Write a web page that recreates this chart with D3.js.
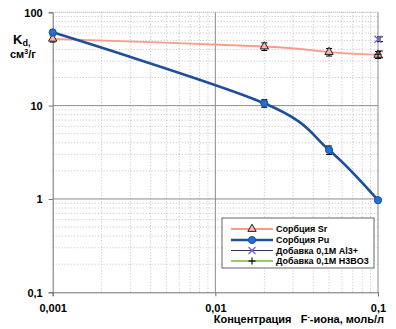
<!DOCTYPE html>
<html><head><meta charset="utf-8">
<script src="https://cdn.jsdelivr.net/npm/d3@7"></script>
<style>
body{margin:0;background:#fff;}
svg{display:block;font-family:"Liberation Sans",Arial,sans-serif;}
</style></head>
<body>
<svg id="c" width="396" height="329"></svg>
<script>
const conc = [0.001, 0.02, 0.05, 0.1];
const srValues = [52, 43, 37.5, 35];
const srErr = [4, 4, 3.5, 3];
const puValues = [61, 10.6, 3.35, 0.97];
const puErr = [0, 1.0, 0.35, 0];
const alConc = [0.1];
const alValues = [51.5];
const boConc = [0.1];
const boValues = [35.5];
const xTicks = [0.001, 0.01, 0.1];
const xTickLabels = ["0,001", "0,01", "0,1"];
const yTicks = [0.1, 1, 10, 100];
const yTickLabels = ["0,1", "1", "10", "100"];
const legendLabels = ["Сорбция Sr", "Сорбция Pu", "Добавка 0,1М Al3+", "Добавка 0,1М H3BO3"];

const svg = d3.select("#c");
const x = d3.scaleLog().domain([0.001, 0.1]).range([52.7, 378]);
const y = d3.scaleLog().domain([0.1, 100]).range([292.3, 12.3]);
const L = x.range()[0], R = x.range()[1], T = y.range()[1], B = y.range()[0];

// minor grid
const g = svg.append("g");
const minorX = [], minorY = [];
for (let d = 0.001; d < 0.1; d *= 10) for (let k = 2; k <= 9; k++) minorX.push(d * k);
for (let d = 0.1; d < 100; d *= 10) for (let k = 2; k <= 9; k++) minorY.push(d * k);
g.selectAll(".mx").data(minorX).join("line")
  .attr("x1", d => x(d)).attr("x2", d => x(d)).attr("y1", T).attr("y2", B)
  .attr("stroke", "#bdbdbd").attr("stroke-width", 1).attr("stroke-dasharray", "1,2");
g.selectAll(".my").data(minorY).join("line")
  .attr("y1", d => y(d)).attr("y2", d => y(d)).attr("x1", L).attr("x2", R)
  .attr("stroke", "#bdbdbd").attr("stroke-width", 1).attr("stroke-dasharray", "1,2");
// top dotted
g.append("line").attr("x1", L).attr("x2", R).attr("y1", T).attr("y2", T)
  .attr("stroke", "#a0a0a0").attr("stroke-dasharray", "1,1");
// major grid
g.selectAll(".Mx").data([0.01, 0.1]).join("line")
  .attr("x1", d => x(d)).attr("x2", d => x(d)).attr("y1", T).attr("y2", B)
  .attr("stroke", "#8c8c8c").attr("stroke-width", 1);
g.selectAll(".My").data([1, 10]).join("line")
  .attr("y1", d => y(d)).attr("y2", d => y(d)).attr("x1", L).attr("x2", R)
  .attr("stroke", "#8c8c8c").attr("stroke-width", 1);

// axes
const yAxis = d3.axisLeft(y).tickValues(yTicks).tickFormat((d, i) => yTickLabels[i]).tickSize(4).tickPadding(6);
const ya = svg.append("g").attr("transform", `translate(${L},0)`).call(yAxis);
const xAxis = d3.axisBottom(x).tickValues(xTicks).tickFormat((d, i) => xTickLabels[i]).tickSize(4).tickPadding(6);
const xa = svg.append("g").attr("transform", `translate(0,${B})`).call(xAxis);
[ya, xa].forEach(a => {
  a.select(".domain").attr("stroke", "#707070");
  a.selectAll(".tick line").attr("stroke", "#707070");
  a.selectAll("text").attr("font-size", 11).attr("font-weight", "bold").attr("fill", "#000");
});
ya.selectAll("text").attr("dy", "0.35em");
xa.selectAll("text").attr("dy", "0.9em");

// series lines
const smooth = d3.curveCatmullRom.alpha(0);
svg.append("path").datum(conc.map((c, i) => [c, srValues[i]]))
  .attr("d", d3.line().x(d => x(d[0])).y(d => y(d[1])).curve(smooth))
  .attr("fill", "none").attr("stroke", "#ff9a8a").attr("stroke-width", 1.8);
svg.append("path").datum(conc.map((c, i) => [c, puValues[i]]))
  .attr("d", d3.line().x(d => x(d[0])).y(d => y(d[1])).curve(smooth))
  .attr("fill", "none").attr("stroke", "#1f4f99").attr("stroke-width", 2.6);

// error bars
function errBar(cx, v, e) {
  if (!e) return;
  const y1 = y(v + e), y2 = y(v - e);
  svg.append("line").attr("x1", cx).attr("x2", cx).attr("y1", y1).attr("y2", y2).attr("stroke", "#000").attr("stroke-width", 1);
  svg.append("line").attr("x1", cx - 3).attr("x2", cx + 3).attr("y1", y1).attr("y2", y1).attr("stroke", "#000").attr("stroke-width", 1);
  svg.append("line").attr("x1", cx - 3).attr("x2", cx + 3).attr("y1", y2).attr("y2", y2).attr("stroke", "#000").attr("stroke-width", 1);
}
conc.forEach((c, i) => errBar(x(c), srValues[i], srErr[i]));
conc.forEach((c, i) => errBar(x(c), puValues[i], puErr[i]));
alConc.forEach((c, i) => errBar(x(c) + 2, alValues[i], 3));
boConc.forEach((c, i) => errBar(x(c) + 2, boValues[i], 3));

// markers
const tri = d3.symbol().type(d3.symbolTriangle).size(30);
function triangle(sel, cx, cy) {
  sel.append("path").attr("d", tri()).attr("transform", `translate(${cx},${cy})`)
    .attr("fill", "#ffb3a8").attr("stroke", "#222").attr("stroke-width", 1);
}
function circle(sel, cx, cy) {
  sel.append("circle").attr("cx", cx).attr("cy", cy).attr("r", 3.6)
    .attr("fill", "#1f6fd6").attr("stroke", "#1f4f99").attr("stroke-width", 1);
}
function xmark(sel, cx, cy) {
  sel.append("path").attr("d", `M${cx-3.5},${cy-3.5}L${cx+3.5},${cy+3.5}M${cx-3.5},${cy+3.5}L${cx+3.5},${cy-3.5}`)
    .attr("stroke", "#7a5fd0").attr("stroke-width", 1.3);
}
function plus(sel, cx, cy) {
  sel.append("path").attr("d", `M${cx-3.5},${cy}L${cx+3.5},${cy}M${cx},${cy-3.5}L${cx},${cy+3.5}`)
    .attr("stroke", "#222").attr("stroke-width", 1.3);
}
conc.forEach((c, i) => triangle(svg, x(c), y(srValues[i])));
conc.forEach((c, i) => circle(svg, x(c), y(puValues[i])));
alConc.forEach((c, i) => xmark(svg, x(c), y(alValues[i])));
boConc.forEach((c, i) => plus(svg, x(c), y(boValues[i])));

// y label
const yl = svg.append("text").attr("x", 13).attr("y", 44).attr("font-weight", "bold").attr("font-size", 13);
yl.append("tspan").text("K");
yl.append("tspan").attr("font-size", 9).attr("dy", 2).text("d,");
const yl2 = svg.append("text").attr("x", 10).attr("y", 58).attr("font-weight", "bold").attr("font-size", 11);
yl2.append("tspan").text("см");
yl2.append("tspan").attr("font-size", 7).attr("dy", -4).text("3");
yl2.append("tspan").attr("dy", 4).text("/г");

// x label
const xl = svg.append("text").attr("x", 384).attr("y", 323).attr("text-anchor", "end")
  .attr("font-weight", "bold").attr("font-size", 11).attr("xml:space", "preserve");
xl.append("tspan").text("Концентрация   F");
xl.append("tspan").attr("font-size", 7).attr("dy", -4).text("-");
xl.append("tspan").attr("dy", 4).text("-иона, моль/л");

// legend
const lg = svg.append("g");
lg.append("rect").attr("x", 222).attr("y", 218).attr("width", 152).attr("height", 50)
  .attr("fill", "#fff").attr("stroke", "#666").attr("stroke-width", 1);
const rows = [229, 240, 250.5, 261];
const lineColors = ["#ff9a8a", "#1f4f99", "#333366", "#99cc66"];
const lineWidths = [1.8, 2.6, 1, 1.8];
rows.forEach((ry, i) => {
  lg.append("line").attr("x1", 231).attr("x2", 273).attr("y1", ry).attr("y2", ry)
    .attr("stroke", lineColors[i]).attr("stroke-width", lineWidths[i]);
  const cx = 252;
  if (i === 0) triangle(lg, cx, ry);
  if (i === 1) circle(lg, cx, ry);
  if (i === 2) xmark(lg, cx, ry);
  if (i === 3) plus(lg, cx, ry);
  lg.append("text").attr("x", 276).attr("y", ry).attr("dy", "0.35em")
    .attr("font-size", 9).attr("font-weight", "bold").text(legendLabels[i]);
});
</script>
</body></html>
